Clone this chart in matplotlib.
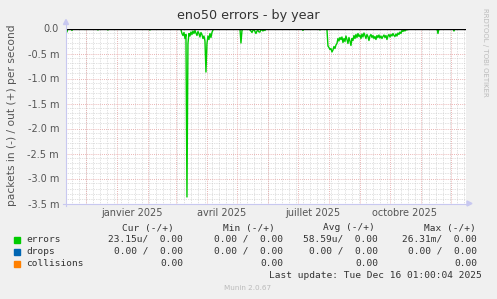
import matplotlib
matplotlib.use("Agg")
import matplotlib.pyplot as plt
import matplotlib.dates as mdates
import pandas as pd
import numpy as np

# ---------------- data ----------------
title = "eno50 errors - by year"
ylabel = "packets in (-) / out (+) per second"
x_start = "2024-11-11 01:00"
x_end = "2025-12-16 01:00"

# errors (in, negative), in milli-packets/s; daily segments, each: start date + daily values
seg_starts = ["2024-11-11", "2024-11-16", "2024-11-29", "2024-12-12", "2024-12-22",
              "2025-02-02", "2025-03-05", "2025-05-04", "2025-05-13", "2025-07-05",
              "2025-07-22", "2025-07-29", "2025-11-17", "2025-12-03", "2025-12-16"]
seg_values = [
    [-0.06, -0.07, 0],
    [0, -0.04, 0],
    [0, -0.02, 0],
    [0, -0.03, 0],
    [0, -0.03, 0],
    [0, -0.03, 0],
    [0, -0.02, -0.1, -0.14, -0.08, -0.2, -0.12, -3.37, -0.3, -0.1, -0.15, -0.07,
     -0.12, -0.05, -0.1, -0.04, -0.09, -0.14, -0.06, -0.1, -0.17, -0.08, -0.12,
     -0.2, -0.15, -0.25, -0.87, -0.3, -0.15, -0.22, -0.1, -0.18, -0.08, -0.03, 0],
    [0, -0.29, -0.04, 0],
    [0, -0.03, -0.05, -0.08, -0.04, -0.02, -0.06, -0.1, -0.05, -0.04, -0.07, -0.07,
     -0.02, -0.03, -0.05, -0.02, -0.04, 0],
    [0, -0.04, 0],
    [0, -0.03, 0],
    [0, -0.02, -0.35, -0.38, -0.42, -0.4, -0.47, -0.43, -0.36, -0.4, -0.33, -0.3,
     -0.2, -0.25, -0.18, -0.22, -0.17, -0.28, -0.2, -0.26, -0.15, -0.22, -0.3, -0.18,
     -0.25, -0.34, -0.2, -0.24, -0.14, -0.2, -0.12, -0.18, -0.1, -0.16, -0.13, -0.2,
     -0.11, -0.17, -0.09, -0.14, -0.2, -0.12, -0.16, -0.24, -0.15, -0.12, -0.18,
     -0.14, -0.2, -0.16, -0.22, -0.14, -0.18, -0.13, -0.19, -0.15, -0.2, -0.16,
     -0.13, -0.18, -0.14, -0.22, -0.15, -0.12, -0.17, -0.12, -0.15, -0.1, -0.14,
     -0.16, -0.11, -0.15, -0.09, -0.12, -0.07, -0.1, -0.04, -0.06, -0.03, -0.05,
     -0.02, -0.03, 0],
    [0, -0.1, 0],
    [0, -0.05, 0],
    [0],
]

yticks = [0, -0.5, -1.0, -1.5, -2.0, -2.5, -3.0, -3.5]
ytick_labels = ["0.0", "-0.5 m", "-1.0 m", "-1.5 m", "-2.0 m", "-2.5 m", "-3.0 m", "-3.5 m"]
xlabel_dates = ["2025-01-16", "2025-04-16", "2025-07-16", "2025-10-16"]
xlabel_texts = ["janvier 2025", "avril 2025", "juillet 2025", "octobre 2025"]

legend_names = ["errors", "drops", "collisions"]
legend_colors = ["#00CC00", "#0066B3", "#FF8000"]
col_headers = ["Cur (-/+)", "Min (-/+)", "Avg (-/+)", "Max (-/+)"]
legend_rows = [
    ["23.15u/  0.00", "0.00 /  0.00", "58.59u/  0.00", "26.31m/  0.00"],
    ["0.00 /  0.00", "0.00 /  0.00", "0.00 /  0.00", "0.00 /  0.00"],
    ["0.00", "0.00", "0.00", "0.00"],
]
last_update = "Last update: Tue Dec 16 01:00:04 2025"
munin_ver = "Munin 2.0.67"
side_text = "RRDTOOL / TOBI OETIKER"

# ---------------- build series ----------------
xs, ys = [], []
for s, vals in zip(seg_starts, seg_values):
    d = pd.date_range(s, periods=len(vals), freq="D")
    xs.extend(d)
    ys.extend(vals)
xs = pd.DatetimeIndex(xs)

W, H = 497, 299
fig = plt.figure(figsize=(W / 100, H / 100), dpi=100, facecolor="#F0F0F0")
L, R, T, B = 66, 466, 28.5, 203.5
ax = fig.add_axes([L / W, 1 - B / H, (R - L) / W, (B - T) / H])
ax.set_facecolor("#FFFFFF")

t0, t1 = pd.Timestamp(x_start), pd.Timestamp(x_end)
ax.set_xlim(t0, t1)
ax.set_ylim(-3.5, 0)

# grids
minor_c = "#C4C4C4"
major_c = "#E49C9C"
ls = (0, (1, 1.5))
for v in np.arange(-3.5, 0.001, 0.1):
    if abs(round(v * 10) % 5) != 0:
        ax.axhline(v, color=minor_c, lw=0.5, ls=ls, zorder=1)
for d in pd.date_range("2024-11-17", t1, freq="7D"):
    ax.axvline(d, color=minor_c, lw=0.5, ls=ls, zorder=1)
for v in yticks[1:]:
    ax.axhline(v, color=major_c, lw=0.6, ls=ls, zorder=1.5)
for d in pd.date_range("2024-12-01", t1, freq="MS"):
    ax.axvline(d, color=major_c, lw=0.6, ls=ls, zorder=1.5)

ax.plot(xs, ys, color="#00CC00", lw=1.0, zorder=3)
ax.axhline(0, color="#000000", lw=1.0, zorder=4)

for sp in ax.spines.values():
    sp.set_visible(False)

ax.set_yticks(yticks)
ax.set_yticklabels(ytick_labels)
ax.set_xticks(pd.to_datetime(xlabel_dates))
ax.set_xticklabels(xlabel_texts)
ax.tick_params(axis="both", length=0, labelsize=7, labelcolor="#555555")
ax.tick_params(axis="y", pad=5)
ax.tick_params(axis="x", pad=3)

# axes arrows
axis_c = "#C8C8F0"
fig.add_artist(plt.Line2D([L / W, L / W], [1 - (B + 2) / H, 1 - (T - 4) / H], color=axis_c, lw=0.8))
fig.add_artist(plt.Line2D([(L - 3) / W, (R + 2) / W], [1 - B / H, 1 - B / H], color=axis_c, lw=0.8))
fig.patches.append(plt.Polygon([[(L - 2.5) / W, 1 - (T - 4) / H], [(L + 2.5) / W, 1 - (T - 4) / H],
                                [L / W, 1 - (T - 9) / H]], closed=True, color=axis_c,
                               transform=fig.transFigure, figure=fig))
fig.patches.append(plt.Polygon([[(R + 1) / W, 1 - (B - 2.5) / H], [(R + 1) / W, 1 - (B + 2.5) / H],
                                [(R + 6) / W, 1 - B / H]], closed=True, color=axis_c,
                               transform=fig.transFigure, figure=fig))

fig.text(248 / W, 1 - 15 / H, title, ha="center", va="center", fontsize=9.2, color="#333333")
fig.text(12 / W, 1 - 115 / H, ylabel, ha="center", va="center", rotation=90, fontsize=7.7, color="#555555")
fig.text(485 / W, 1 - 52 / H, side_text, ha="center", va="center", rotation=270, fontsize=5, color="#BBBBBB")

mono = "DejaVu Sans Mono"
fs = 6.8
col_right = [183, 283, 378, 477]
hdr_y = 228
fig.text(148 / W, 1 - hdr_y / H, col_headers[0], ha="center", va="center", family=mono, fontsize=fs, color="#333333")
fig.text(248.5 / W, 1 - hdr_y / H, col_headers[1], ha="center", va="center", family=mono, fontsize=fs, color="#333333")
fig.text(348.5 / W, 1 - hdr_y / H, col_headers[2], ha="center", va="center", family=mono, fontsize=fs, color="#333333")
fig.text(449.5 / W, 1 - hdr_y / H, col_headers[3], ha="center", va="center", family=mono, fontsize=fs, color="#333333")
row_y = [239.5, 251.5, 263.5]
for name, c, vals, y in zip(legend_names, legend_colors, legend_rows, row_y):
    fig.patches.append(plt.Rectangle((14 / W, 1 - (y + 3) / H), 6 / W, 6 / H, color=c,
                                     transform=fig.transFigure, figure=fig))
    fig.text(26 / W, 1 - y / H, name, ha="left", va="center", family=mono, fontsize=fs, color="#333333")
    for v, xr in zip(vals, col_right):
        fig.text(xr / W, 1 - y / H, v, ha="right", va="center", family=mono, fontsize=fs, color="#333333")
fig.text(482 / W, 1 - 276 / H, last_update, ha="right", va="center", family=mono, fontsize=fs, color="#333333")
fig.text(248 / W, 1 - 288 / H, munin_ver, ha="center", va="center", fontsize=5.2, color="#BBBBBB")

fig.savefig("out.png", dpi=100, facecolor=fig.get_facecolor())
